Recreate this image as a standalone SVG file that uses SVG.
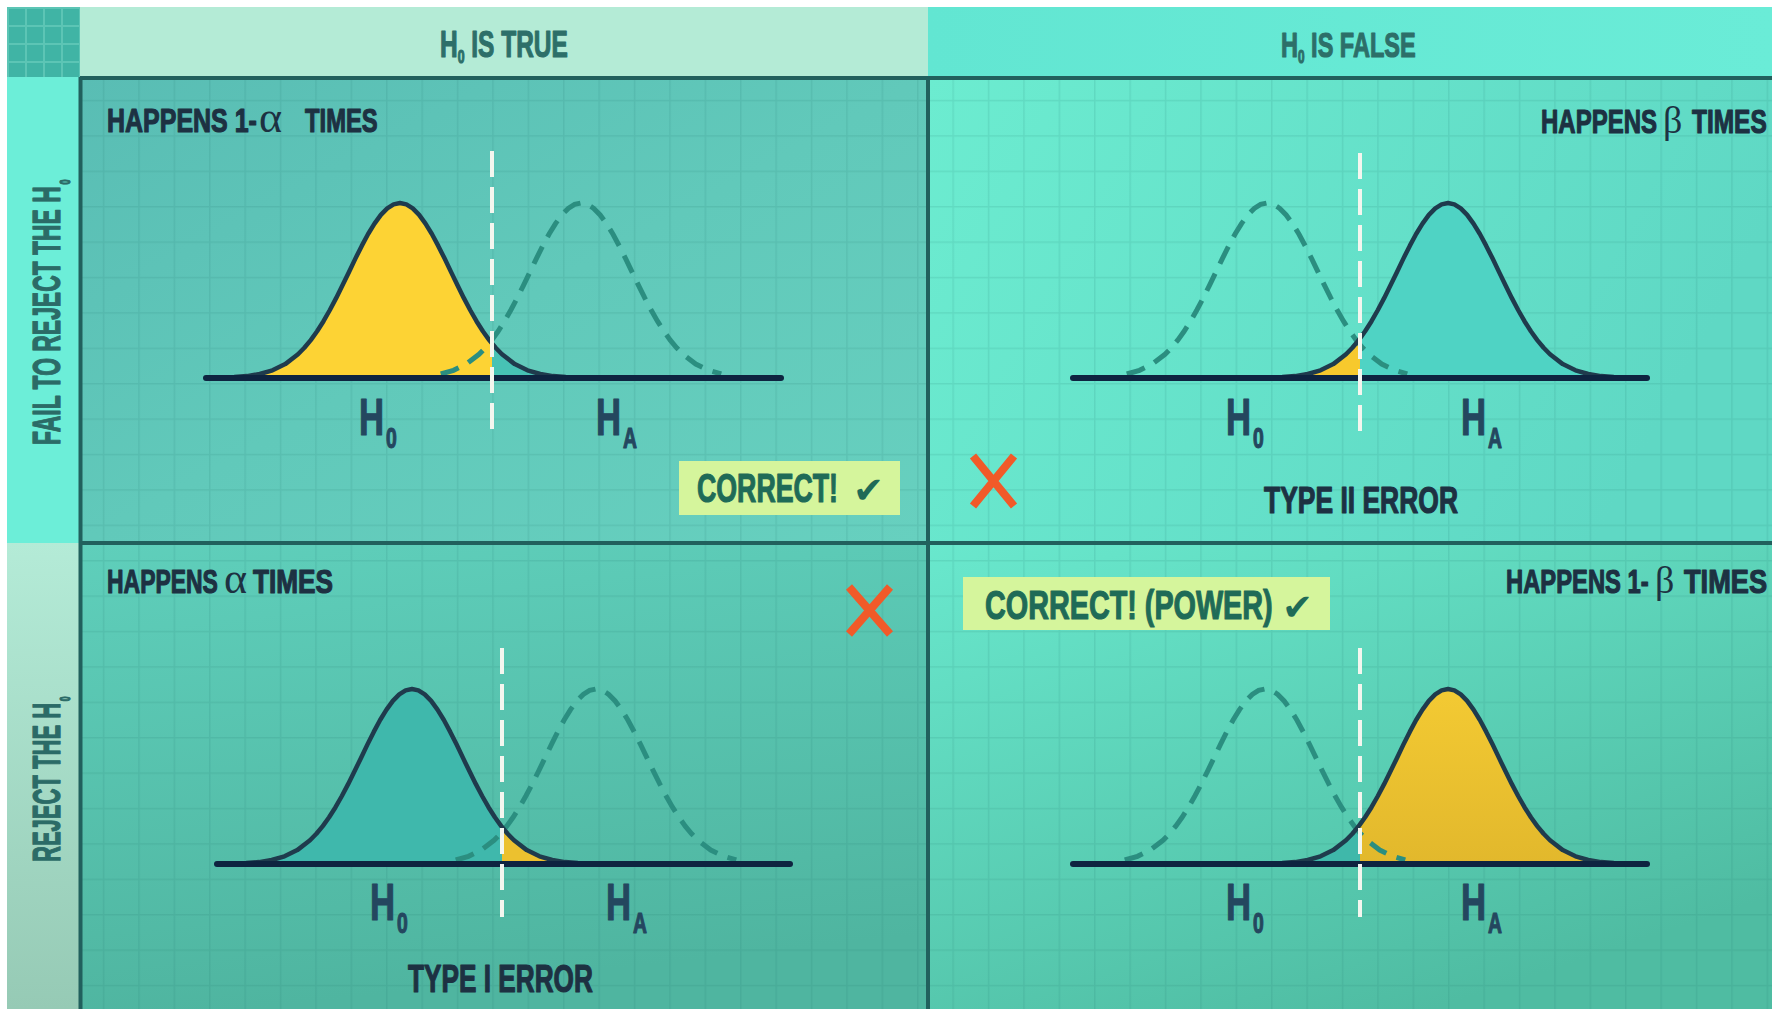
<svg xmlns="http://www.w3.org/2000/svg" width="1775" height="1009" viewBox="0 0 1775 1009">
<style>
.lbl{font-family:"Liberation Sans",Arial,sans-serif;font-weight:700;stroke-width:1.2;stroke-linejoin:round}
.dark{fill:#1d3142;stroke:#1d3142}
.hdr{fill:#2d6f69;stroke:#2d6f69}
.row{fill:#2b6b67;stroke:#2b6b67}
.hl{fill:#24475f;stroke:#24475f}
.ok{fill:#1f6b57;stroke:#1f6b57}
.greek{font-family:"Liberation Serif","DejaVu Serif",serif;font-weight:400;stroke:none}
.chk{font-family:"DejaVu Sans",sans-serif;font-weight:700;stroke:none}
.solid{fill:none;stroke:#1f3b4d;stroke-width:4.5;stroke-linejoin:round}
.dash{fill:none;stroke:#2b8e80;stroke-width:5;stroke-dasharray:19 11}
.base{stroke:#0e2440;stroke-width:6;stroke-linecap:round}
.crit{stroke:#f4f6ef;stroke-width:4;stroke-dasharray:26 10}
.rule{stroke:#21605d;stroke-width:4}
.xm{stroke:#f15a29;stroke-width:8;fill:none}
.box{fill:#d5f59c}
</style>
<defs>
<linearGradient id="gTL" x1="0" y1="0" x2="1" y2="1"><stop offset="0" stop-color="#59bdb4"/><stop offset="0.5" stop-color="#61c9ba"/><stop offset="1" stop-color="#67d0bf"/></linearGradient>
<linearGradient id="gTR" x1="0" y1="0" x2="1" y2="0.3"><stop offset="0" stop-color="#6cecd0"/><stop offset="1" stop-color="#5fd8c4"/></linearGradient>
<linearGradient id="gBL" x1="0" y1="0" x2="0.2" y2="1"><stop offset="0" stop-color="#5fcfbb"/><stop offset="1" stop-color="#4fb5a0"/></linearGradient>
<linearGradient id="gBR" x1="0" y1="0" x2="0.6" y2="1"><stop offset="0" stop-color="#69e8cd"/><stop offset="1" stop-color="#4fbca2"/></linearGradient>
<linearGradient id="gRowB" x1="0" y1="0" x2="0" y2="1"><stop offset="0" stop-color="#b4ebd7"/><stop offset="1" stop-color="#96cab5"/></linearGradient>
<linearGradient id="gHdrR" x1="0" y1="0" x2="1" y2="0"><stop offset="0" stop-color="#62e6d2"/><stop offset="1" stop-color="#6aecd7"/></linearGradient>
<linearGradient id="gYel" x1="0" y1="0" x2="0" y2="1"><stop offset="0" stop-color="#f3ca33"/><stop offset="1" stop-color="#e2b82c"/></linearGradient>
<pattern id="grid" x="32" y="29" width="35.4" height="35.4" patternUnits="userSpaceOnUse"><path d="M0.75,0V35.4M0,0.75H35.4" stroke="#1a6e62" stroke-opacity="0.12" stroke-width="1.5" fill="none"/></pattern>
<pattern id="gridC" x="7" y="7" width="18" height="18" patternUnits="userSpaceOnUse"><path d="M1,0V18M0,1H18" stroke="#7fd9c9" stroke-opacity="0.45" stroke-width="2" fill="none"/></pattern>
<clipPath id="cTLL"><rect x="0" y="0" width="492" height="1009"/></clipPath>
<clipPath id="cTLR"><rect x="492" y="0" width="436" height="1009"/></clipPath>
<clipPath id="cBLL"><rect x="0" y="0" width="502" height="1009"/></clipPath>
<clipPath id="cBLR"><rect x="502" y="0" width="426" height="1009"/></clipPath>
<clipPath id="cRL"><rect x="928" y="0" width="432" height="1009"/></clipPath>
<clipPath id="cRR"><rect x="1360" y="0" width="415" height="1009"/></clipPath>
<path id="gLine" d="M-178.5,-0.4 L-165.75,-0.9 L-153,-1.9 L-140.25,-4 L-127.5,-7.7 L-114.75,-13.9 L-102,-23.7 L-95.63,-30.2 L-89.25,-37.9 L-82.88,-46.7 L-76.5,-56.8 L-70.13,-68 L-63.75,-80.1 L-57.38,-92.9 L-51,-106.1 L-44.63,-119.4 L-38.25,-132.1 L-31.88,-144 L-25.5,-154.4 L-19.13,-163.1 L-12.75,-169.6 L-6.38,-173.6 L0,-175 L6.38,-173.6 L12.75,-169.6 L19.13,-163.1 L25.5,-154.4 L31.88,-144 L38.25,-132.1 L44.63,-119.4 L51,-106.1 L57.38,-92.9 L63.75,-80.1 L70.13,-68 L76.5,-56.8 L82.88,-46.7 L89.25,-37.9 L95.63,-30.2 L102,-23.7 L114.75,-13.9 L127.5,-7.7 L140.25,-4 L153,-1.9 L165.75,-0.9 L178.5,-0.4"/>
<path id="gFill" d="M-178.5,-0.4 L-165.75,-0.9 L-153,-1.9 L-140.25,-4 L-127.5,-7.7 L-114.75,-13.9 L-102,-23.7 L-95.63,-30.2 L-89.25,-37.9 L-82.88,-46.7 L-76.5,-56.8 L-70.13,-68 L-63.75,-80.1 L-57.38,-92.9 L-51,-106.1 L-44.63,-119.4 L-38.25,-132.1 L-31.88,-144 L-25.5,-154.4 L-19.13,-163.1 L-12.75,-169.6 L-6.38,-173.6 L0,-175 L6.38,-173.6 L12.75,-169.6 L19.13,-163.1 L25.5,-154.4 L31.88,-144 L38.25,-132.1 L44.63,-119.4 L51,-106.1 L57.38,-92.9 L63.75,-80.1 L70.13,-68 L76.5,-56.8 L82.88,-46.7 L89.25,-37.9 L95.63,-30.2 L102,-23.7 L114.75,-13.9 L127.5,-7.7 L140.25,-4 L153,-1.9 L165.75,-0.9 L178.5,-0.4 L178.5,0 L-178.5,0 Z"/>
<path id="gDash" d="M-140.25,-4 L-127.5,-7.7 L-114.75,-13.9 L-102,-23.7 L-95.63,-30.2 L-89.25,-37.9 L-82.88,-46.7 L-76.5,-56.8 L-70.13,-68 L-63.75,-80.1 L-57.38,-92.9 L-51,-106.1 L-44.63,-119.4 L-38.25,-132.1 L-31.88,-144 L-25.5,-154.4 L-19.13,-163.1 L-12.75,-169.6 L-6.38,-173.6 L0,-175 L6.38,-173.6 L12.75,-169.6 L19.13,-163.1 L25.5,-154.4 L31.88,-144 L38.25,-132.1 L44.63,-119.4 L51,-106.1 L57.38,-92.9 L63.75,-80.1 L70.13,-68 L76.5,-56.8 L82.88,-46.7 L89.25,-37.9 L95.63,-30.2 L102,-23.7 L114.75,-13.9 L127.5,-7.7 L140.25,-4"/>
</defs>

<g id="background">
<rect x="0" y="0" width="1775" height="1009" fill="#ffffff"/>
<rect x="7" y="7" width="73" height="70" fill="#40b4a5"/>
<rect x="7" y="7" width="73" height="70" fill="url(#gridC)"/>
<rect x="80" y="77" width="848" height="466" fill="url(#gTL)"/>
<rect x="928" y="77" width="844" height="466" fill="url(#gTR)"/>
<rect x="80" y="543" width="848" height="466" fill="url(#gBL)"/>
<rect x="928" y="543" width="844" height="466" fill="url(#gBR)"/>
<rect x="80" y="77" width="1692" height="932" fill="url(#grid)"/>
</g>

<g id="header-true">
<rect x="80" y="7" width="848" height="70" fill="#b4ebd6"/>
<text class="lbl hdr" font-size="36" transform="translate(440,57) scale(0.68,1)">H<tspan dy="6" font-size="18">0</tspan><tspan dy="-6"> IS TRUE</tspan></text>
</g>
<g id="header-false">
<rect x="928" y="7" width="844" height="70" fill="url(#gHdrR)"/>
<text class="lbl hdr" font-size="36" transform="translate(1281,57) scale(0.654,1)">H<tspan dy="6" font-size="18">0</tspan><tspan dy="-6"> IS FALSE</tspan></text>
</g>
<g id="row-fail">
<rect x="7" y="77" width="73" height="466" fill="#6ceed8"/>
<text class="lbl row" font-size="38" transform="translate(60,445) rotate(-90) scale(0.603,1)">FAIL TO REJECT THE H<tspan dx="3" dy="10" font-size="15">0</tspan></text>
</g>
<g id="row-reject">
<rect x="7" y="543" width="73" height="466" fill="url(#gRowB)"/>
<text class="lbl row" font-size="38" transform="translate(60,862) rotate(-90) scale(0.58,1)">REJECT THE H<tspan dx="3" dy="10" font-size="15">0</tspan></text>
</g>

<g id="connectors">
<line class="rule" x1="80" y1="78" x2="1772" y2="78"/>
<line class="rule" x1="80.5" y1="77" x2="80.5" y2="1009" stroke-width="3.5"/>
<line class="rule" x1="928" y1="77" x2="928" y2="1009" stroke-width="3.5"/>
<line class="rule" x1="80" y1="543" x2="1772" y2="543" stroke-width="3.5"/>
</g>

<g id="cell-fail-true">
<text class="lbl dark" font-size="34" transform="translate(107,132) scale(0.735,1)">HAPPENS 1-</text>
<text class="greek dark" font-size="44" x="259" y="132">α</text>
<text class="lbl dark" font-size="34" transform="translate(305,132) scale(0.70,1)">TIMES</text>
<g clip-path="url(#cTLL)"><use href="#gFill" transform="translate(400,378)" fill="#fdd334"/></g>
<g clip-path="url(#cTLR)"><use href="#gFill" transform="translate(400,378)" fill="#47c2b5"/></g>
<use href="#gDash" class="dash" transform="translate(581,378)"/>
<use href="#gLine" class="solid" transform="translate(400,378)"/>
<line class="base" x1="206" y1="378" x2="781" y2="378"/>
<line class="crit" x1="492" y1="151" x2="492" y2="434"/>
<text class="lbl hl" font-size="52" transform="translate(359,435) scale(0.667,1)">H<tspan dx="3" dy="13" font-size="29">0</tspan></text>
<text class="lbl hl" font-size="52" transform="translate(596,435) scale(0.667,1)">H<tspan dx="3" dy="13" font-size="29">A</tspan></text>
<rect class="box" x="679" y="461" width="221" height="54"/>
<text class="lbl ok" font-size="41" transform="translate(697,502) scale(0.652,1)">CORRECT!</text>
<text class="chk ok" font-size="37" x="853" y="503">✔</text>
</g>

<g id="cell-fail-false">
<text class="lbl dark" font-size="34" transform="translate(1541,133) scale(0.706,1)">HAPPENS</text>
<text class="greek dark" font-size="38" x="1663" y="133">β</text>
<text class="lbl dark" font-size="34" transform="translate(1692,133) scale(0.72,1)">TIMES</text>
<g clip-path="url(#cRL)"><use href="#gFill" transform="translate(1448,378)" fill="#f7c92d"/></g>
<g clip-path="url(#cRR)"><use href="#gFill" transform="translate(1448,378)" fill="#4fd3c4"/></g>
<use href="#gDash" class="dash" transform="translate(1267,378)"/>
<use href="#gLine" class="solid" transform="translate(1448,378)"/>
<line class="base" x1="1073" y1="378" x2="1647" y2="378"/>
<line class="crit" x1="1360" y1="153" x2="1360" y2="434"/>
<text class="lbl hl" font-size="52" transform="translate(1226,435) scale(0.667,1)">H<tspan dx="3" dy="13" font-size="29">0</tspan></text>
<text class="lbl hl" font-size="52" transform="translate(1461,435) scale(0.667,1)">H<tspan dx="3" dy="13" font-size="29">A</tspan></text>
<path class="xm" d="M973,456 L1014,506 M1014,456 L973,506"/>
<text class="lbl dark" font-size="37" transform="translate(1264,513) scale(0.715,1)">TYPE II ERROR</text>
</g>

<g id="cell-reject-true">
<text class="lbl dark" font-size="34" transform="translate(107,593) scale(0.675,1)">HAPPENS</text>
<text class="greek dark" font-size="44" x="224" y="593">α</text>
<text class="lbl dark" font-size="34" transform="translate(253,593) scale(0.77,1)">TIMES</text>
<path class="xm" d="M849,587 L890,634 M890,587 L849,634"/>
<g clip-path="url(#cBLL)"><use href="#gFill" transform="translate(412,864)" fill="#3fb8ac"/></g>
<g clip-path="url(#cBLR)"><use href="#gFill" transform="translate(412,864)" fill="#ecc12f"/></g>
<use href="#gDash" class="dash" transform="translate(596,864)"/>
<use href="#gLine" class="solid" transform="translate(412,864)"/>
<line class="base" x1="217" y1="864" x2="790" y2="864"/>
<line class="crit" x1="502" y1="648" x2="502" y2="917"/>
<text class="lbl hl" font-size="52" transform="translate(370,920) scale(0.667,1)">H<tspan dx="3" dy="13" font-size="29">0</tspan></text>
<text class="lbl hl" font-size="52" transform="translate(606,920) scale(0.667,1)">H<tspan dx="3" dy="13" font-size="29">A</tspan></text>
<text class="lbl dark" font-size="38" transform="translate(408,992) scale(0.69,1)">TYPE I ERROR</text>
</g>

<g id="cell-reject-false">
<text class="lbl dark" font-size="34" transform="translate(1506,593) scale(0.70,1)">HAPPENS 1-</text>
<text class="greek dark" font-size="38" x="1655" y="593">β</text>
<text class="lbl dark" font-size="34" transform="translate(1684,593) scale(0.80,1)">TIMES</text>
<rect class="box" x="963" y="577" width="367" height="53"/>
<text class="lbl ok" font-size="41" transform="translate(985,619) scale(0.702,1)">CORRECT! (POWER)</text>
<text class="chk ok" font-size="37" x="1282" y="620">✔</text>
<g clip-path="url(#cRL)"><use href="#gFill" transform="translate(1448,864)" fill="#3fb8aa"/></g>
<g clip-path="url(#cRR)"><use href="#gFill" transform="translate(1448,864)" fill="url(#gYel)"/></g>
<use href="#gDash" class="dash" transform="translate(1265,864)"/>
<use href="#gLine" class="solid" transform="translate(1448,864)"/>
<line class="base" x1="1073" y1="864" x2="1647" y2="864"/>
<line class="crit" x1="1360" y1="648" x2="1360" y2="917"/>
<text class="lbl hl" font-size="52" transform="translate(1226,920) scale(0.667,1)">H<tspan dx="3" dy="13" font-size="29">0</tspan></text>
<text class="lbl hl" font-size="52" transform="translate(1461,920) scale(0.667,1)">H<tspan dx="3" dy="13" font-size="29">A</tspan></text>
</g>
</svg>
